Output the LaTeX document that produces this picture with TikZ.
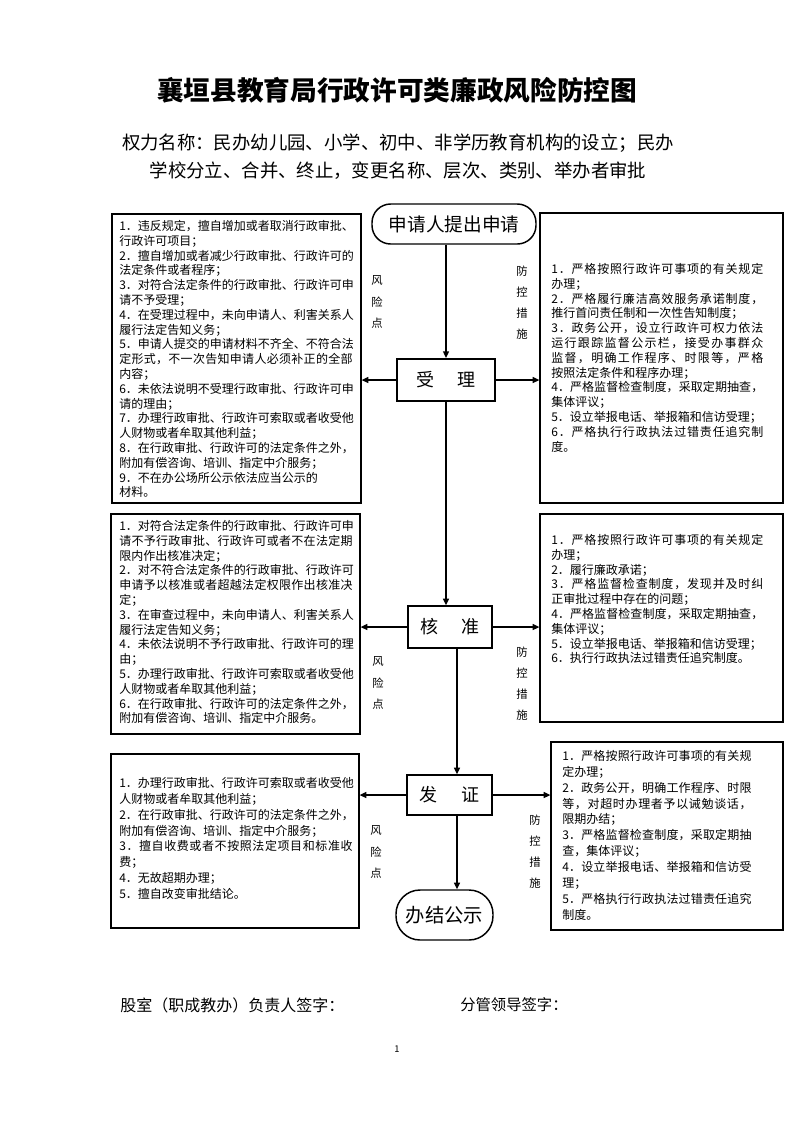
\documentclass[tikz,border=0pt]{standalone}
\usepackage{fontspec}
\setmainfont{Noto Sans CJK SC}
\usetikzlibrary{arrows.meta,fit}
\def\jlend{}
\def\jlx#1#2{#1\ifx\jlend#2\else\hfil\expandafter\jlx\expandafter#2\fi}
\newcommand{\jl}[1]{\ifvmode\noindent\fi\hbox to\hsize{\jlx#1\jlend}}
\begin{document}
\begin{tikzpicture}[x=0.75pt,y=-0.75pt,
  box/.style={draw, line width=0.9pt, inner sep=0pt},
  stepbox/.style={draw, line width=1.6pt, inner sep=0pt},
  pill/.style={draw, line width=1.1pt, inner sep=0pt, rounded corners=14pt},
  txt/.style={anchor=north west, inner sep=0pt, align=left, font=\fontsize{9}{11.1}\selectfont},
  txtb/.style={anchor=north west, inner sep=0pt, align=left, font=\fontsize{9}{11.9}\selectfont},
  vlab/.style={inner sep=0pt, align=center, font=\fontsize{8.5}{15.8}\selectfont},
  arr/.style={line width=1.1pt, -{Triangle[length=5pt,width=4.5pt]}}]
\useasboundingbox (0,0) rectangle (793,1122);
\fill[white] (0,0) rectangle (793,1122);

% title
\node[inner sep=0pt, font=\fontsize{20}{24}\bfseries] (title) at (397,90) {襄垣县教育局行政许可类廉政风险防控图};
\node[inner sep=0pt, align=center, font=\fontsize{13.8}{21}\selectfont] (sub) at (398,157)
  {权力名称：民办幼儿园、小学、初中、非学历教育机构的设立；民办\\学校分立、合并、终止，变更名称、层次、类别、举办者审批};

% flow nodes
\node[pill, fit={(372,204) (536,244)}] (start) {};
\node[font=\fontsize{14}{16}\selectfont, inner sep=0pt] (starttxt) at (start.center) {申请人提出申请};
\node[stepbox, fit={(397,359) (495,401)}] (sl) {};
\node[font=\fontsize{13.5}{15}\selectfont, inner sep=0pt] (sltxt) at (sl.center) {受\hspace{1.3em}理};
\node[box, line width=1.1pt, fit={(408,606) (492,648)}] (hz) {};
\node[font=\fontsize{13.5}{15}\selectfont, inner sep=0pt] (hztxt) at (hz.center) {核\hspace{1.3em}准};
\node[box, line width=1.1pt, fit={(407,775) (492,815)}] (fz) {};
\node[font=\fontsize{13.5}{15}\selectfont, inner sep=0pt] (fztxt) at (fz.center) {发\hspace{1.3em}证};
\node[pill, rounded corners=18pt, fit={(396,890) (493,940)}] (end) {};
\node[font=\fontsize{14.5}{16}\selectfont, inner sep=0pt] (endtxt) at (end.center) {办结公示};

% side boxes
\node[box, fit={(112,214) (361,503)}] (L1) {};
\node[box, fit={(540,213) (783,503)}] (R1) {};
\node[box, fit={(111,514) (360,734)}] (L2) {};
\node[box, fit={(540,514) (783,722)}] (R2) {};
\node[box, fit={(111,754) (359,928)}] (L3) {};
\node[box, fit={(551,742) (783,930)}] (R3) {};

\node[txt, text width=175pt] (L1t) at (119,220) {\jl{1．违反规定，擅自增加或者取消行政审批、}\\行政许可项目；\\\jl{2．擅自增加或者减少行政审批、行政许可的}\\法定条件或者程序；\\\jl{3．对符合法定条件的行政审批、行政许可申}\\请不予受理；\\\jl{4．在受理过程中，未向申请人、利害关系人}\\履行法定告知义务；\\\jl{5．申请人提交的申请材料不齐全、不符合法}\\\jl{定形式，不一次告知申请人必须补正的全部}\\内容；\\\jl{6．未依法说明不受理行政审批、行政许可申}\\请的理由；\\\jl{7．办理行政审批、行政许可索取或者收受他}\\人财物或者牟取其他利益；\\\jl{8．在行政审批、行政许可的法定条件之外，}\\附加有偿咨询、培训、指定中介服务；\\9．不在办公场所公示依法应当公示的\\材料。};

\node[txt, text width=159pt] (R1t) at (551,263) {\jl{1．严格按照行政许可事项的有关规定}\\办理；\\\jl{2．严格履行廉洁高效服务承诺制度，}\\推行首问责任制和一次性告知制度；\\\jl{3．政务公开，设立行政许可权力依法}\\\jl{运行跟踪监督公示栏，接受办事群众}\\\jl{监督，明确工作程序、时限等，严格}\\按照法定条件和程序办理；\\\jl{4．严格监督检查制度，采取定期抽查，}\\集体评议；\\5．设立举报电话、举报箱和信访受理；\\\jl{6．严格执行行政执法过错责任追究制}\\度。};

\node[txt, text width=175pt] (L2t) at (119,520) {\jl{1．对符合法定条件的行政审批、行政许可申}\\\jl{请不予行政审批、行政许可或者不在法定期}\\限内作出核准决定；\\\jl{2．对不符合法定条件的行政审批、行政许可}\\\jl{申请予以核准或者超越法定权限作出核准决}\\定；\\\jl{3．在审查过程中，未向申请人、利害关系人}\\履行法定告知义务；\\\jl{4．未依法说明不予行政审批、行政许可的理}\\由；\\\jl{5．办理行政审批、行政许可索取或者收受他}\\人财物或者牟取其他利益；\\\jl{6．在行政审批、行政许可的法定条件之外，}\\附加有偿咨询、培训、指定中介服务。};

\node[txt, text width=159pt] (R2t) at (551,534) {\jl{1．严格按照行政许可事项的有关规定}\\办理；\\2．履行廉政承诺；\\\jl{3．严格监督检查制度，发现并及时纠}\\正审批过程中存在的问题；\\\jl{4．严格监督检查制度，采取定期抽查，}\\集体评议；\\5．设立举报电话、举报箱和信访受理；\\6．执行行政执法过错责任追究制度。};

\node[txtb, text width=175pt] (L3t) at (119,777) {\jl{1．办理行政审批、行政许可索取或者收受他}\\人财物或者牟取其他利益；\\\jl{2．在行政审批、行政许可的法定条件之外，}\\附加有偿咨询、培训、指定中介服务；\\\jl{3．擅自收费或者不按照法定项目和标准收}\\费；\\4．无故超期办理；\\5．擅自改变审批结论。};

\node[txtb, text width=142pt] (R3t) at (562,750) {\jl{1．严格按照行政许可事项的有关规}\\定办理；\\\jl{2．政务公开，明确工作程序、时限}\\\jl{等，对超时办理者予以诫勉谈话，}\\限期办结；\\\jl{3．严格监督检查制度，采取定期抽}\\查，集体评议；\\\jl{4．设立举报电话、举报箱和信访受}\\理；\\\jl{5．严格执行行政执法过错责任追究}\\制度。};

% vertical labels
\node[vlab] (f1) at (377,302) {风\\险\\点};
\node[vlab] (c1) at (522,303) {防\\控\\措\\施};
\node[vlab] (f2) at (378,683) {风\\险\\点};
\node[vlab] (c2) at (522,684) {防\\控\\措\\施};
\node[vlab] (f3) at (376,852) {风\\险\\点};
\node[vlab] (c3) at (535,852) {防\\控\\措\\施};

% connectors
\coordinate (vx) at (457,700);
\draw[arr] (sl.north |- start.south) -- (sl.north);
\draw[arr] (sl.south) -- (sl.south |- hz.north);
\draw[arr] (vx |- hz.south) -- (vx |- fz.north);
\draw[arr] (vx |- fz.south) -- (vx |- end.north);
\draw[arr] (sl.west) -- (sl.west -| L1.east);
\draw[arr] (sl.east) -- (sl.east -| R1.west);
\draw[arr] (hz.west) -- (hz.west -| L2.east);
\draw[arr] (hz.east) -- (hz.east -| R2.west);
\draw[arr] (fz.west) -- (fz.west -| L3.east);
\draw[arr] (fz.east) -- (fz.east -| R3.west);

% footer
\node[anchor=west, inner sep=0pt, font=\fontsize{12}{14}\selectfont] (sig1) at (120,1005) {股室（职成教办）负责人签字：};
\node[anchor=west, inner sep=0pt, font=\fontsize{11.5}{14}\selectfont] (sig2) at (460,1005) {分管领导签字：};
\node[inner sep=0pt, font=\fontsize{7}{8}\selectfont] (pg) at (397,1049) {1};
\end{tikzpicture}
\end{document}
